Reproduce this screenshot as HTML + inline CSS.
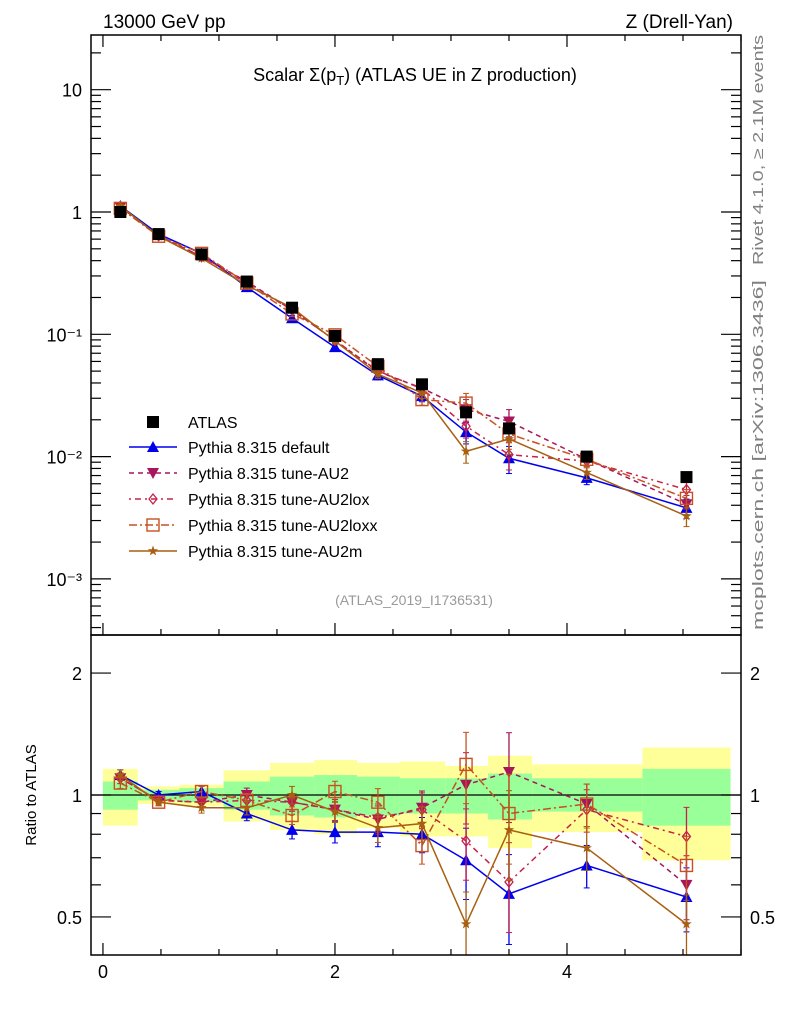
<!DOCTYPE html>
<html><head><meta charset="utf-8"><style>
body{margin:0;background:#fff;}
svg text{font-family:"Liberation Sans",sans-serif;}
</style></head><body>
<svg id="c" width="786" height="1024" xmlns="http://www.w3.org/2000/svg">
<text x="103" y="28" font-size="19">13000 GeV pp</text>
<text x="733" y="28" font-size="19" text-anchor="end">Z (Drell-Yan)</text>
<text x="415" y="81" font-size="18" text-anchor="middle">Scalar Σ(p<tspan font-size="13" dy="4">T</tspan><tspan dy="-4">) (ATLAS UE in Z production)</tspan></text>
<text x="414" y="605" font-size="14" fill="#999" text-anchor="middle">(ATLAS_2019_I1736531)</text>
<text transform="translate(763,265) rotate(-90)" font-size="15" fill="#808080" textLength="230" lengthAdjust="spacingAndGlyphs">Rivet 4.1.0, ≥ 2.1M events</text>
<text transform="translate(763,630) rotate(-90)" font-size="15" fill="#808080" textLength="350" lengthAdjust="spacingAndGlyphs">mcplots.cern.ch [arXiv:1306.3436]</text>
<text transform="translate(36,795) rotate(-90)" font-size="15" text-anchor="middle">Ratio to ATLAS</text>
<g id="bands"></g>
<g id="marks"></g>
<g id="axes"></g>
<g id="legend"></g>
</svg>
<script>
const binEdges=[0,0.3,0.66,1.04,1.44,1.82,2.19,2.56,2.95,3.32,3.7,4.65,5.41];
const xCenters=[0.15,0.48,0.85,1.24,1.63,2.0,2.37,2.75,3.13,3.5,4.17,5.03];
const dataVals=[1.0,0.66,0.45,0.27,0.165,0.097,0.057,0.039,0.023,0.017,0.0100,0.0068];
const greenLo=[0.92,0.97,0.96,0.92,0.89,0.88,0.89,0.9,0.9,0.87,0.91,0.84];
const greenHi=[1.08,1.03,1.04,1.08,1.11,1.12,1.11,1.1,1.1,1.13,1.1,1.16];
const yellowLo=[0.84,0.95,0.94,0.86,0.82,0.8,0.83,0.79,0.79,0.74,0.81,0.69];
const yellowHi=[1.16,1.05,1.06,1.15,1.2,1.22,1.2,1.21,1.18,1.25,1.19,1.31];
const rDefault=[1.12,1.0,1.02,0.9,0.82,0.81,0.81,0.8,0.69,0.57,0.67,0.56];
const rAU2=[1.1,0.97,0.96,1.0,0.96,0.92,0.87,0.93,1.06,1.14,0.95,0.6];
const rAU2lox=[1.1,0.97,0.96,0.97,0.96,0.92,0.88,0.92,0.77,0.61,0.92,0.79];
const rAU2loxx=[1.07,0.96,1.02,0.97,0.89,1.02,0.96,0.75,1.19,0.9,0.95,0.67];
const rAU2m=[1.12,0.96,0.93,0.93,1.0,0.91,0.83,0.85,0.48,0.82,0.74,0.48];
const relErr=[0.03,0.02,0.03,0.04,0.05,0.06,0.08,0.1,0.2,0.25,0.12,0.18];
const xTicks=[0,2,4];
const mainTickLabels=["10⁻³","10⁻²","10⁻¹","1","10"];
const ratioTickVals=[0.5,1,2];

const NS="http://www.w3.org/2000/svg";
const X0=91,X1=741,XMIN=-0.103,XMAX=5.5;
const M0=35,M1=635,R0=635,R1=955;
const sx=v=>X0+(v-XMIN)/(XMAX-XMIN)*(X1-X0);
const syM=v=>212-Math.log10(v)*122.3;
const syR=v=>795-Math.log10(v)*405;
function el(tag,attrs,parent){const e=document.createElementNS(NS,tag);for(const k in attrs)e.setAttribute(k,attrs[k]);parent.appendChild(e);return e;}
const bands=document.getElementById('bands'),marks=document.getElementById('marks'),axes=document.getElementById('axes'),legend=document.getElementById('legend');

for(let i=0;i<binEdges.length-1;i++){
  const a=sx(binEdges[i]),b=sx(binEdges[i+1]);
  let r=el('rect',{x:a,y:syR(yellowHi[i]),width:b-a,height:syR(yellowLo[i])-syR(yellowHi[i]),fill:'#ffff99'},bands);
  
  
  r=el('rect',{x:a,y:syR(greenHi[i]),width:b-a,height:syR(greenLo[i])-syR(greenHi[i]),fill:'#99ff99'},bands);
  
  
}
let one=el('line',{x1:X0,x2:X1,y1:syR(1),y2:syR(1),stroke:'#000','stroke-width':1.3},bands);



function marker(type,x,y,color,g){
  if(type==='sq')return el('rect',{x:x-6,y:y-6,width:12,height:12,fill:'#000'},g);
  if(type==='up')return el('path',{d:`M${x} ${y-6}L${x+6} ${y+5}L${x-6} ${y+5}Z`,fill:color},g);
  if(type==='down')return el('path',{d:`M${x} ${y+6}L${x+6} ${y-5}L${x-6} ${y-5}Z`,fill:color},g);
  if(type==='dia')return el('path',{d:`M${x} ${y-5}L${x+4} ${y}L${x} ${y+5}L${x-4} ${y}Z`,fill:'none',stroke:color,'stroke-width':1.3},g);
  if(type==='osq')return el('rect',{x:x-6,y:y-6,width:12,height:12,fill:'none',stroke:color,'stroke-width':1.4},g);
  if(type==='star'){let p='';for(let k=0;k<10;k++){const r=k%2?2.2:5.5,t=-Math.PI/2+k*Math.PI/5;p+=(k?'L':'M')+(x+r*Math.cos(t)).toFixed(1)+' '+(y+r*Math.sin(t)).toFixed(1);}return el('path',{d:p+'Z',fill:color},g);}
}
const series=[
 {name:'Pythia 8.315 default',r:rDefault,c:'#0000ee',m:'up',dash:'',key:'default'},
 {name:'Pythia 8.315 tune-AU2',r:rAU2,c:'#a8155a',m:'down',dash:'5,4',key:'au2'},
 {name:'Pythia 8.315 tune-AU2lox',r:rAU2lox,c:'#c8204a',m:'dia',dash:'2,4,6,4',key:'au2lox'},
 {name:'Pythia 8.315 tune-AU2loxx',r:rAU2loxx,c:'#c85020',m:'osq',dash:'8,3,2,3',key:'au2loxx'},
 {name:'Pythia 8.315 tune-AU2m',r:rAU2m,c:'#a85f10',m:'star',dash:'',key:'au2m'}
];
series.forEach(s=>{
  const g=el('g',{},marks);
  
  
  const ptsM=xCenters.map((x,i)=>[sx(x),syM(dataVals[i]*s.r[i])]);
  const ptsR=xCenters.map((x,i)=>[sx(x),Math.min(R1,syR(s.r[i]))]);
  [ptsM,ptsR].forEach((pts,pi)=>{
    el('polyline',{points:pts.map(p=>p.join(',')).join(' '),fill:'none',stroke:s.c,'stroke-width':1.5,'stroke-dasharray':s.dash},g);
    pts.forEach((p,i)=>{
      const v=pi===0?dataVals[i]*s.r[i]:s.r[i],f=pi===0?syM:syR;
      const ya=f(v*(1+relErr[i])),yb=Math.min(R1,f(v*(1-relErr[i])));
      el('line',{x1:p[0],x2:p[0],y1:ya,y2:yb,stroke:s.c,'stroke-width':1.3},g);
      el('line',{x1:p[0]-3,x2:p[0]+3,y1:ya,y2:ya,stroke:s.c},g);
      el('line',{x1:p[0]-3,x2:p[0]+3,y1:yb,y2:yb,stroke:s.c},g);
      const mk=marker(s.m,p[0],p[1],s.c,g);
      
      
    });
  });
});
xCenters.forEach((x,i)=>{
  const m=marker('sq',sx(x),syM(dataVals[i]),'#000',marks);
  
  
});

[[M0,M1],[R0,R1]].forEach(([t,b])=>el('rect',{x:X0,y:t,width:X1-X0,height:b-t,fill:'none',stroke:'#000','stroke-width':1.5},axes));
for(let v=0;v<=5.5;v+=0.5){
  const x=sx(v),big=Math.abs(v%2)<1e-6;
  const L=big?12:6;
  [[M1,-1],[M0,1],[R1,-1]].forEach(([y,d])=>el('line',{x1:x,x2:x,y1:y,y2:y+d*L,stroke:'#000','stroke-width':1.2},axes));
}
xTicks.forEach(v=>{const t=el('text',{x:sx(v),y:978,'font-size':18,'text-anchor':'middle'},axes);t.textContent=v;
  
  });
for(let d=-4;d<=1;d++){for(let k=1;k<10;k++){const v=k*Math.pow(10,d);const y=syM(v);if(y<M0||y>M1)continue;
  const L=k===1?20:10;el('line',{x1:X0,x2:X0+L,y1:y,y2:y,stroke:'#000','stroke-width':1.2},axes);el('line',{x1:X1,x2:X1-L,y1:y,y2:y,stroke:'#000','stroke-width':1.2},axes);}}
mainTickLabels.forEach((s,i)=>{const v=Math.pow(10,i-3);const t=el('text',{x:82,y:syM(v)+7,'font-size':18,'text-anchor':'end'},axes);t.textContent=s;
  
  });
[0.5,0.6,0.7,0.8,0.9,1,2].forEach(v=>{const y=syR(v);const L=(v===0.5||v===1||v===2)?20:10;
  el('line',{x1:X0,x2:X0+L,y1:y,y2:y,stroke:'#000','stroke-width':1.2},axes);el('line',{x1:X1,x2:X1-L,y1:y,y2:y,stroke:'#000','stroke-width':1.2},axes);});
ratioTickVals.forEach(v=>{[[82,'end'],[750,'start']].forEach(([x,a])=>{const t=el('text',{x:x,y:syR(v)+7,'font-size':18,'text-anchor':a},axes);t.textContent=v;
  
  });});

const ly=[422,447,473,499,525,551];
let lg=el('g',{},legend);
marker('sq',153,ly[0],'#000',lg);
let tt=el('text',{x:188,y:ly[0]+6,'font-size':16},lg);tt.textContent='ATLAS';
series.forEach((s,i)=>{const g=el('g',{},legend);
  
  
  el('line',{x1:129,x2:177,y1:ly[i+1],y2:ly[i+1],stroke:s.c,'stroke-width':1.5,'stroke-dasharray':s.dash},g);
  marker(s.m,153,ly[i+1],s.c,g);
  const t=el('text',{x:188,y:ly[i+1]+6,'font-size':16},g);t.textContent=s.name;});
</script>
</body></html>
